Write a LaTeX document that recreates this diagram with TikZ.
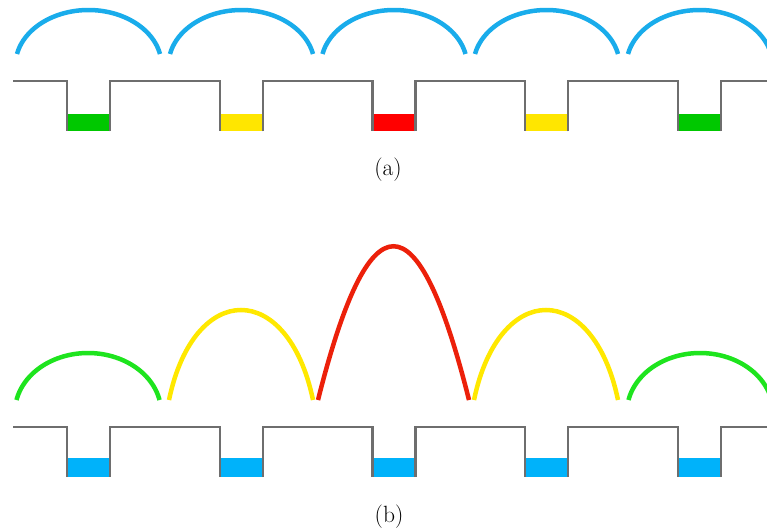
\documentclass[tikz,border=0pt]{standalone}
\usepackage{fontspec}
\definecolor{arcblue}{RGB}{25,172,235}
\definecolor{arcgreen}{RGB}{30,228,30}
\definecolor{arcyellow}{RGB}{255,232,0}
\definecolor{arcred}{RGB}{236,32,10}
\definecolor{fillblue}{RGB}{0,178,250}
\definecolor{fillgreen}{RGB}{0,200,0}
\definecolor{fillyellow}{RGB}{255,230,0}
\definecolor{fillred}{RGB}{255,0,0}
\definecolor{ground}{RGB}{110,110,110}
% bezier hump: center, halfwidth, ctrl, k, base, color
\newcommand\myhump[6]{%
  \draw[hump,#6] ({#1-#2},#5) .. controls ({#1-#3},{#5-#4}) and ({#1+#3},{#5-#4}) .. ({#1+#2},#5);}
% elliptic hump: center, halfwidth, start angle, height, base, color
\newcommand\myell[6]{%
  \pgfmathsetmacro\rxx{#2/cos(#3)}%
  \pgfmathsetmacro\ryy{#4/(1-sin(#3))}%
  \pgfmathsetmacro\ycc{#5+\ryy*sin(#3)}%
  \draw[hump,#6] plot[domain=#3:{180-#3},samples=60,smooth] ({#1+\rxx*cos(\x)},{\ycc-\ryy*sin(\x)});}
\begin{document}
\begin{tikzpicture}[x=1pt,y=-1pt,
  hump/.style={line width=4.5pt,line cap=butt},
  groundline/.style={draw=ground,line width=2.4pt,line join=miter},
  caption/.style={inner sep=0pt,font=\fontsize{23.5}{28}\selectfont}]
\useasboundingbox (0,0) rectangle (767,529);
\begin{scope}
\clip (0,0) rectangle (767,529);
% ---------- (a) ----------
\foreach \cx in {88.5,241.5,394,546.5,699.5}{\myell{\cx}{71.5}{12}{44}{54}{arcblue}}
\foreach \L/\col in {67/fillgreen,220/fillyellow,372.5/fillred,525/fillyellow,678/fillgreen}{
  \fill[\col] (\L,114) rectangle ({\L+43},131.5);}
\draw[groundline] (13,81) -- (67,81) -- (67,131.5) (110,131.5) -- (110,81) -- (220,81) -- (220,131.5)
  (263,131.5) -- (263,81) -- (372.5,81) -- (372.5,131.5) (415.5,131.5) -- (415.5,81) -- (525,81) -- (525,131.5)
  (568,131.5) -- (568,81) -- (678,81) -- (678,131.5) (721,131.5) -- (721,81) -- (770,81);
% ---------- (b) ----------
\myell{88}{71.5}{12}{47}{400}{arcgreen}
\myhump{241}{72}{47}{120}{400}{arcyellow}
\myhump{393.5}{75.5}{24}{205}{400}{arcred}
\myhump{546}{72}{47}{120}{400}{arcyellow}
\myell{700}{71.5}{12}{47}{400}{arcgreen}
\foreach \L in {67,220,372.5,525,678}{
  \fill[fillblue] (\L,458) rectangle ({\L+43},477);}
\draw[groundline] (13,427) -- (67,427) -- (67,477) (110,477) -- (110,427) -- (220,427) -- (220,477)
  (263,477) -- (263,427) -- (372.5,427) -- (372.5,477) (415.5,477) -- (415.5,427) -- (525,427) -- (525,477)
  (568,477) -- (568,427) -- (678,427) -- (678,477) (721,477) -- (721,427) -- (770,427);
\end{scope}
\node[caption] (capa) at (388,170) {(a)};
\node[caption] (capb) at (389,517) {(b)};
\end{tikzpicture}
\end{document}
